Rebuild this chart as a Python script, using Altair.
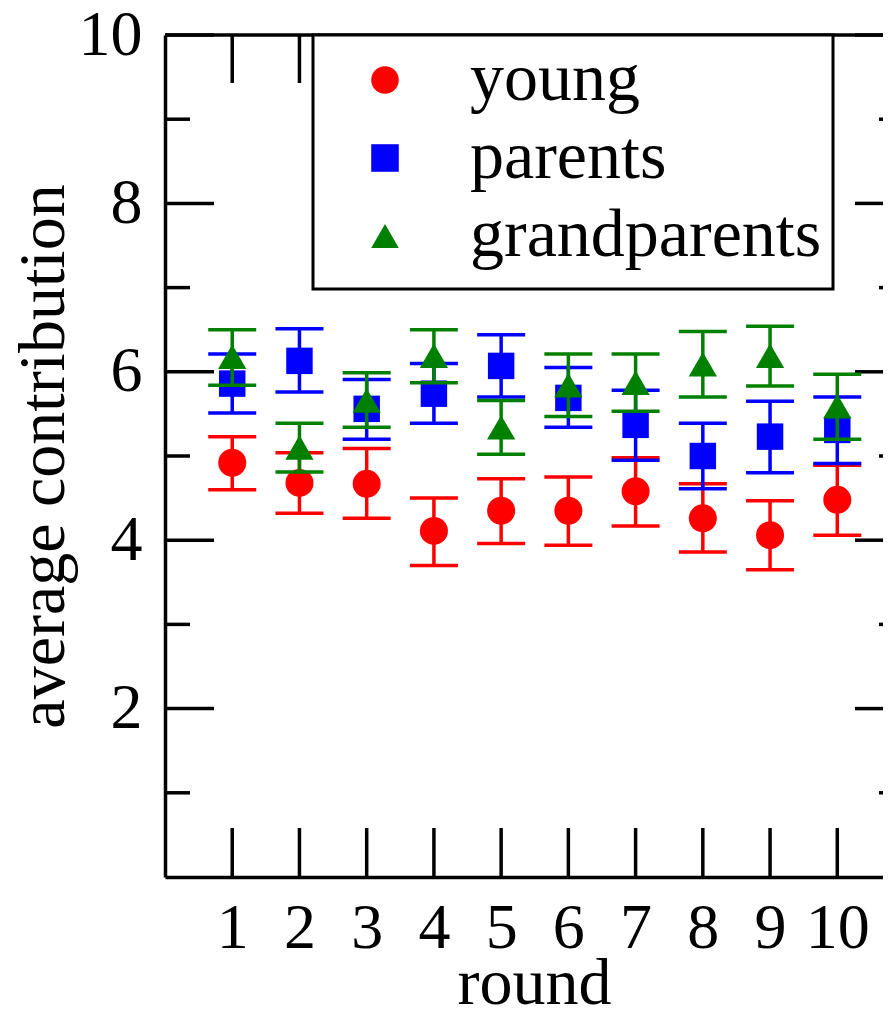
import altair as alt
import pandas as pd

# ---------------- data ----------------
rounds = [1, 2, 3, 4, 5, 6, 7, 8, 9, 10]
groups = ["young", "parents", "grandparents"]

young_mean = [4.92, 4.68, 4.67, 4.11, 4.35, 4.35, 4.58, 4.26, 4.06, 4.48]
young_lo = [4.60, 4.32, 4.26, 3.70, 3.96, 3.94, 4.17, 3.86, 3.65, 4.06]
young_hi = [5.23, 5.04, 5.09, 4.50, 4.73, 4.75, 4.98, 4.67, 4.47, 4.89]

parents_mean = [5.86, 6.13, 5.56, 5.74, 6.07, 5.69, 5.37, 5.00, 5.23, 5.31]
parents_lo = [5.51, 5.76, 5.20, 5.39, 5.70, 5.34, 4.95, 4.61, 4.80, 4.91]
parents_hi = [6.21, 6.51, 5.91, 6.10, 6.44, 6.05, 5.78, 5.39, 5.65, 5.70]

grand_mean = [6.18, 5.10, 5.66, 6.19, 5.34, 5.84, 5.87, 6.09, 6.19, 5.59]
grand_lo = [5.84, 4.81, 5.34, 5.87, 5.02, 5.47, 5.53, 5.70, 5.83, 5.20]
grand_hi = [6.50, 5.39, 5.99, 6.50, 5.66, 6.21, 6.21, 6.48, 6.54, 5.97]

x_tick_values = [1, 2, 3, 4, 5, 6, 7, 8, 9, 10]
x_top_ticks = [1, 2, 3, 4, 5, 6, 7, 8, 9]   # the one at 10 sits under the legend frame
y_major_ticks = [2, 4, 6, 8, 10]
y_minor_ticks = [1, 3, 5, 7, 9]

x_title = "round"
y_title = "average contribution"

# ---------------- styling ----------------
colors = ["#ff0000", "#0000ff", "#008000"]
shapes = ["circle", "square", "triangle-up"]
point_sizes = [784, 700, 800]
FONT = "Liberation Serif"
W, H = 718, 842          # plot area (right frame lies just beyond the picture)
XMAX = 10.68
LW = 3.5

x_scale = alt.Scale(domain=[0, XMAX], nice=False, zero=False)
y_scale = alt.Scale(domain=[0, 10], nice=False, zero=False)
color_scale = alt.Scale(domain=groups, range=colors)
shape_scale = alt.Scale(domain=groups, range=shapes)

x_axis = alt.Axis(
    values=x_tick_values, grid=False, ticks=False,
    domainColor="black", domainWidth=LW,
    labelFont=FONT, labelFontSize=64, labelColor="black",
    labelPadding=70, labelBaseline="alphabetic", labelOverlap=False,
    labelFlush=False,
    title=x_title, titleFont=FONT, titleFontSize=66, titleFontWeight="normal",
    titleColor="black", titleX=369, titleY=126, titleAlign="center",
    titleBaseline="alphabetic",
)
y_axis = alt.Axis(
    values=y_major_ticks, grid=False, ticks=False,
    domainColor="black", domainWidth=LW,
    labelFont=FONT, labelFontSize=64, labelColor="black",
    labelPadding=23, labelOverlap=False, labelFlush=False,
    title=y_title, titleFont=FONT, titleFontSize=66, titleFontWeight="normal",
    titleColor="black", titleX=-102, titleY=421, titleAngle=270,
    titleAlign="center", titleBaseline="alphabetic",
)

legend = alt.Legend(
    orient="none", legendX=148, legendY=0,
    title=" ", titleOrient="bottom", titleFontSize=8, titlePadding=0,
    fillColor="white", strokeColor="black",
    padding=11, symbolOffset=27, labelOffset=51, rowPadding=10,
    symbolSize=760, symbolStrokeWidth=0,
    labelFont=FONT, labelFontSize=68, labelColor="black", labelLimit=600,
)

frames = {
    "young": (young_mean, young_lo, young_hi),
    "parents": (parents_mean, parents_lo, parents_hi),
    "grandparents": (grand_mean, grand_lo, grand_hi),
}

X = lambda f: alt.X(f, scale=x_scale, axis=x_axis)
Y = lambda f: alt.Y(f, scale=y_scale, axis=y_axis)

layers = []

# frame ticks (all drawn inward)
xt = pd.DataFrame({"t": x_tick_values})
xtop = pd.DataFrame({"t": x_top_ticks})
ymaj = pd.DataFrame({"v": y_major_ticks})
ymin = pd.DataFrame({"v": y_minor_ticks})
one = pd.DataFrame({"a": [0]})

for d, xv in [(ymaj, (0, 49)), (ymin, (0, 25)), (ymaj, (690, W)), (ymin, (714, W))]:
    layers.append(
        alt.Chart(d).mark_rule(color="black", strokeWidth=LW).encode(
            y=Y("v:Q"), x=alt.value(xv[0]), x2=alt.value(xv[1]),
        )
    )
for d, yv in [(xt, (H, H - 49)), (xtop, (0, 48))]:
    layers.append(
        alt.Chart(d).mark_rule(color="black", strokeWidth=LW).encode(
            x=X("t:Q"), y=alt.value(yv[0]), y2=alt.value(yv[1]),
        )
    )
layers.append(
    alt.Chart(one).mark_rule(color="black", strokeWidth=LW).encode(
        x=alt.value(0), x2=alt.value(W), y=alt.value(0),
    )
)

# data series, drawn young -> parents -> grandparents
for g, c, sh, ps in zip(groups, colors, shapes, point_sizes):
    m, lo, hi = frames[g]
    d = pd.DataFrame({"round": rounds, "mean": m, "lo": lo, "hi": hi,
                      "group": [g] * len(rounds)})
    base = alt.Chart(d)
    layers.append(
        base.mark_rule(color=c, strokeWidth=LW, opacity=1).encode(
            x=X("round:Q"), y=Y("lo:Q"), y2="hi:Q",
        )
    )
    for fld in ["lo", "hi"]:
        layers.append(
            base.mark_tick(color=c, orient="horizontal", size=48,
                           thickness=LW, opacity=1).encode(
                x=X("round:Q"), y=Y(f"{fld}:Q"),
            )
        )
    layers.append(
        base.mark_point(filled=True, size=ps, opacity=1, strokeWidth=0).encode(
            x=X("round:Q"), y=Y("mean:Q"),
            color=alt.Color("group:N", scale=color_scale, legend=legend),
            shape=alt.Shape("group:N", scale=shape_scale, legend=legend),
        )
    )

chart = (
    alt.layer(*layers)
    .properties(
        width=W, height=H,
        autosize=alt.AutoSizeParams(type="none"),
        padding={"left": 157, "top": 27, "right": 0, "bottom": 130},
        background="white",
    )
    .configure_view(strokeWidth=0)
    .configure_legend(strokeWidth=3)
)

chart.save("out.html", embed_options={"renderer": "svg", "actions": False})
